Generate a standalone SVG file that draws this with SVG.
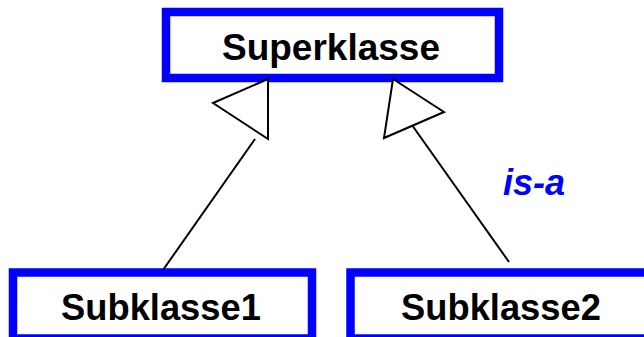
<svg xmlns="http://www.w3.org/2000/svg" width="644" height="337" viewBox="0 0 644 337">
<style>
.box{fill:#fff;stroke:#0000ff;stroke-width:8.5}
.lbl{font-family:"Liberation Sans",Arial,sans-serif;font-weight:bold;fill:#000;text-anchor:middle}
.edge{stroke:#000;stroke-width:2;fill:none}
.head{stroke:#000;stroke-width:2;fill:#fff;stroke-linejoin:miter}
.note{font-family:"Liberation Sans",Arial,sans-serif;font-weight:bold;font-style:italic;fill:#0000ff;font-size:36px}
</style>
<rect width="644" height="337" fill="#fff"/>
<g id="superklasse">
<rect class="box" x="166" y="12" width="333" height="66"/>
<text class="lbl" x="331" y="60" font-size="37">Superklasse</text>
</g>
<g id="subklasse1">
<rect class="box" x="13" y="272.5" width="299" height="66"/>
<text class="lbl" x="161" y="320" font-size="36.3">Subklasse1</text>
</g>
<g id="subklasse2">
<rect class="box" x="350.5" y="272.5" width="300" height="66"/>
<text class="lbl" x="501" y="320" font-size="36.3">Subklasse2</text>
</g>
<g id="connectors">
<line class="edge" x1="255" y1="139" x2="163" y2="270"/>
<polygon class="head" points="268,79 213,103 268,139"/>
<line class="edge" x1="407" y1="118" x2="509" y2="262"/>
<polygon class="head" points="393,79 444,112 384,138"/>
<text class="note" x="503" y="195">is-a</text>
</g>
</svg>
